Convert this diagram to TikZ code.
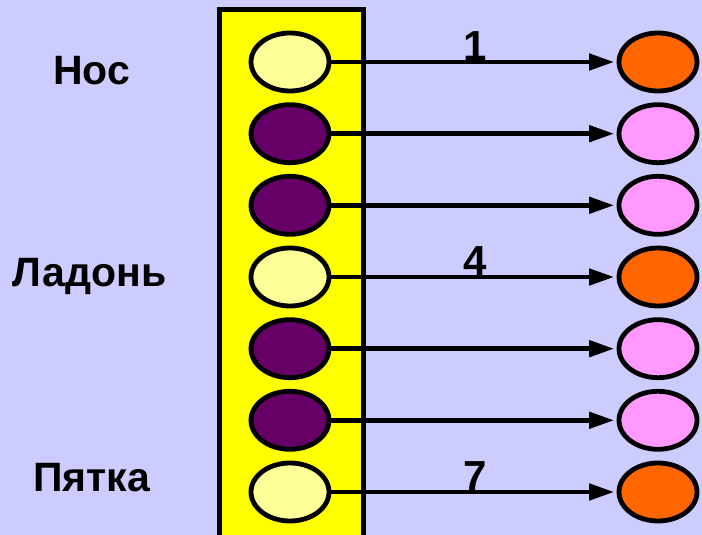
\documentclass[tikz,border=0pt]{standalone}
\usepackage{fontspec}
\setmainfont{Liberation Sans}
\usetikzlibrary{arrows.meta,shapes.geometric}
\definecolor{bgblue}{HTML}{CCCCFF}
\definecolor{baryellow}{HTML}{FFFF00}
\definecolor{paleyellow}{HTML}{FFFF99}
\definecolor{plum}{HTML}{660066}
\definecolor{hotorange}{HTML}{FF6600}
\definecolor{lightpink}{HTML}{FF99FF}
\begin{document}
\begin{tikzpicture}[x=1pt,y=1pt,
  cell/.style={ellipse,draw=black,line width=4.8pt,minimum width=78pt,minimum height=58pt,inner sep=0pt},
  word/.style={anchor=base,font=\fontsize{41}{46}\selectfont\bfseries},
  num/.style={anchor=base,font=\fontsize{42}{46}\selectfont\bfseries},
  link/.style={line width=4.6pt,-{Triangle[length=25pt,width=16pt]},shorten >=2.4pt}]
  % canvas
  \useasboundingbox (0,0) rectangle (702,535);
  \fill[bgblue] (0,0) rectangle (702,535);
  \clip (0,0) rectangle (702,535);
  % yellow strip holding the left cells
  \draw[fill=baryellow,line width=5pt] (219.5,-20) -- (219.5,525.5) -- (363,525.5) -- (363,-20);
  % left cells
  \node[cell,fill=paleyellow] (l1) at (290,473) {};
  \node[cell,fill=plum]       (l2) at (290,401.3) {};
  \node[cell,fill=plum]       (l3) at (290,329.7) {};
  \node[cell,fill=paleyellow] (l4) at (290,258) {};
  \node[cell,fill=plum]       (l5) at (290,186.3) {};
  \node[cell,fill=plum]       (l6) at (290,114.7) {};
  \node[cell,fill=paleyellow] (l7) at (290,43) {};
  % right cells
  \node[cell,fill=hotorange]  (r1) at (658,473) {};
  \node[cell,fill=lightpink]  (r2) at (658,401.3) {};
  \node[cell,fill=lightpink]  (r3) at (658,329.7) {};
  \node[cell,fill=hotorange]  (r4) at (658,258) {};
  \node[cell,fill=lightpink]  (r5) at (658,186.3) {};
  \node[cell,fill=lightpink]  (r6) at (658,114.7) {};
  \node[cell,fill=hotorange]  (r7) at (658,43) {};
  % connections
  \foreach \i in {1,...,7} {
    \draw[link] (l\i.east) -- (r\i.west);
  }
  % numbers over the lines
  \node[num] (n1) at (475,474.5) {1};
  \node[num] (n4) at (475,259.5) {4};
  \node[num] (n7) at (475,44.5) {7};
  % words on the left
  \node[word] (w1) at (91.5,450) {Нос};
  \node[word] (w4) at (89.5,248) {Ладонь};
  \node[word] (w7) at (91.5,43) {Пятка};
\end{tikzpicture}
\end{document}
